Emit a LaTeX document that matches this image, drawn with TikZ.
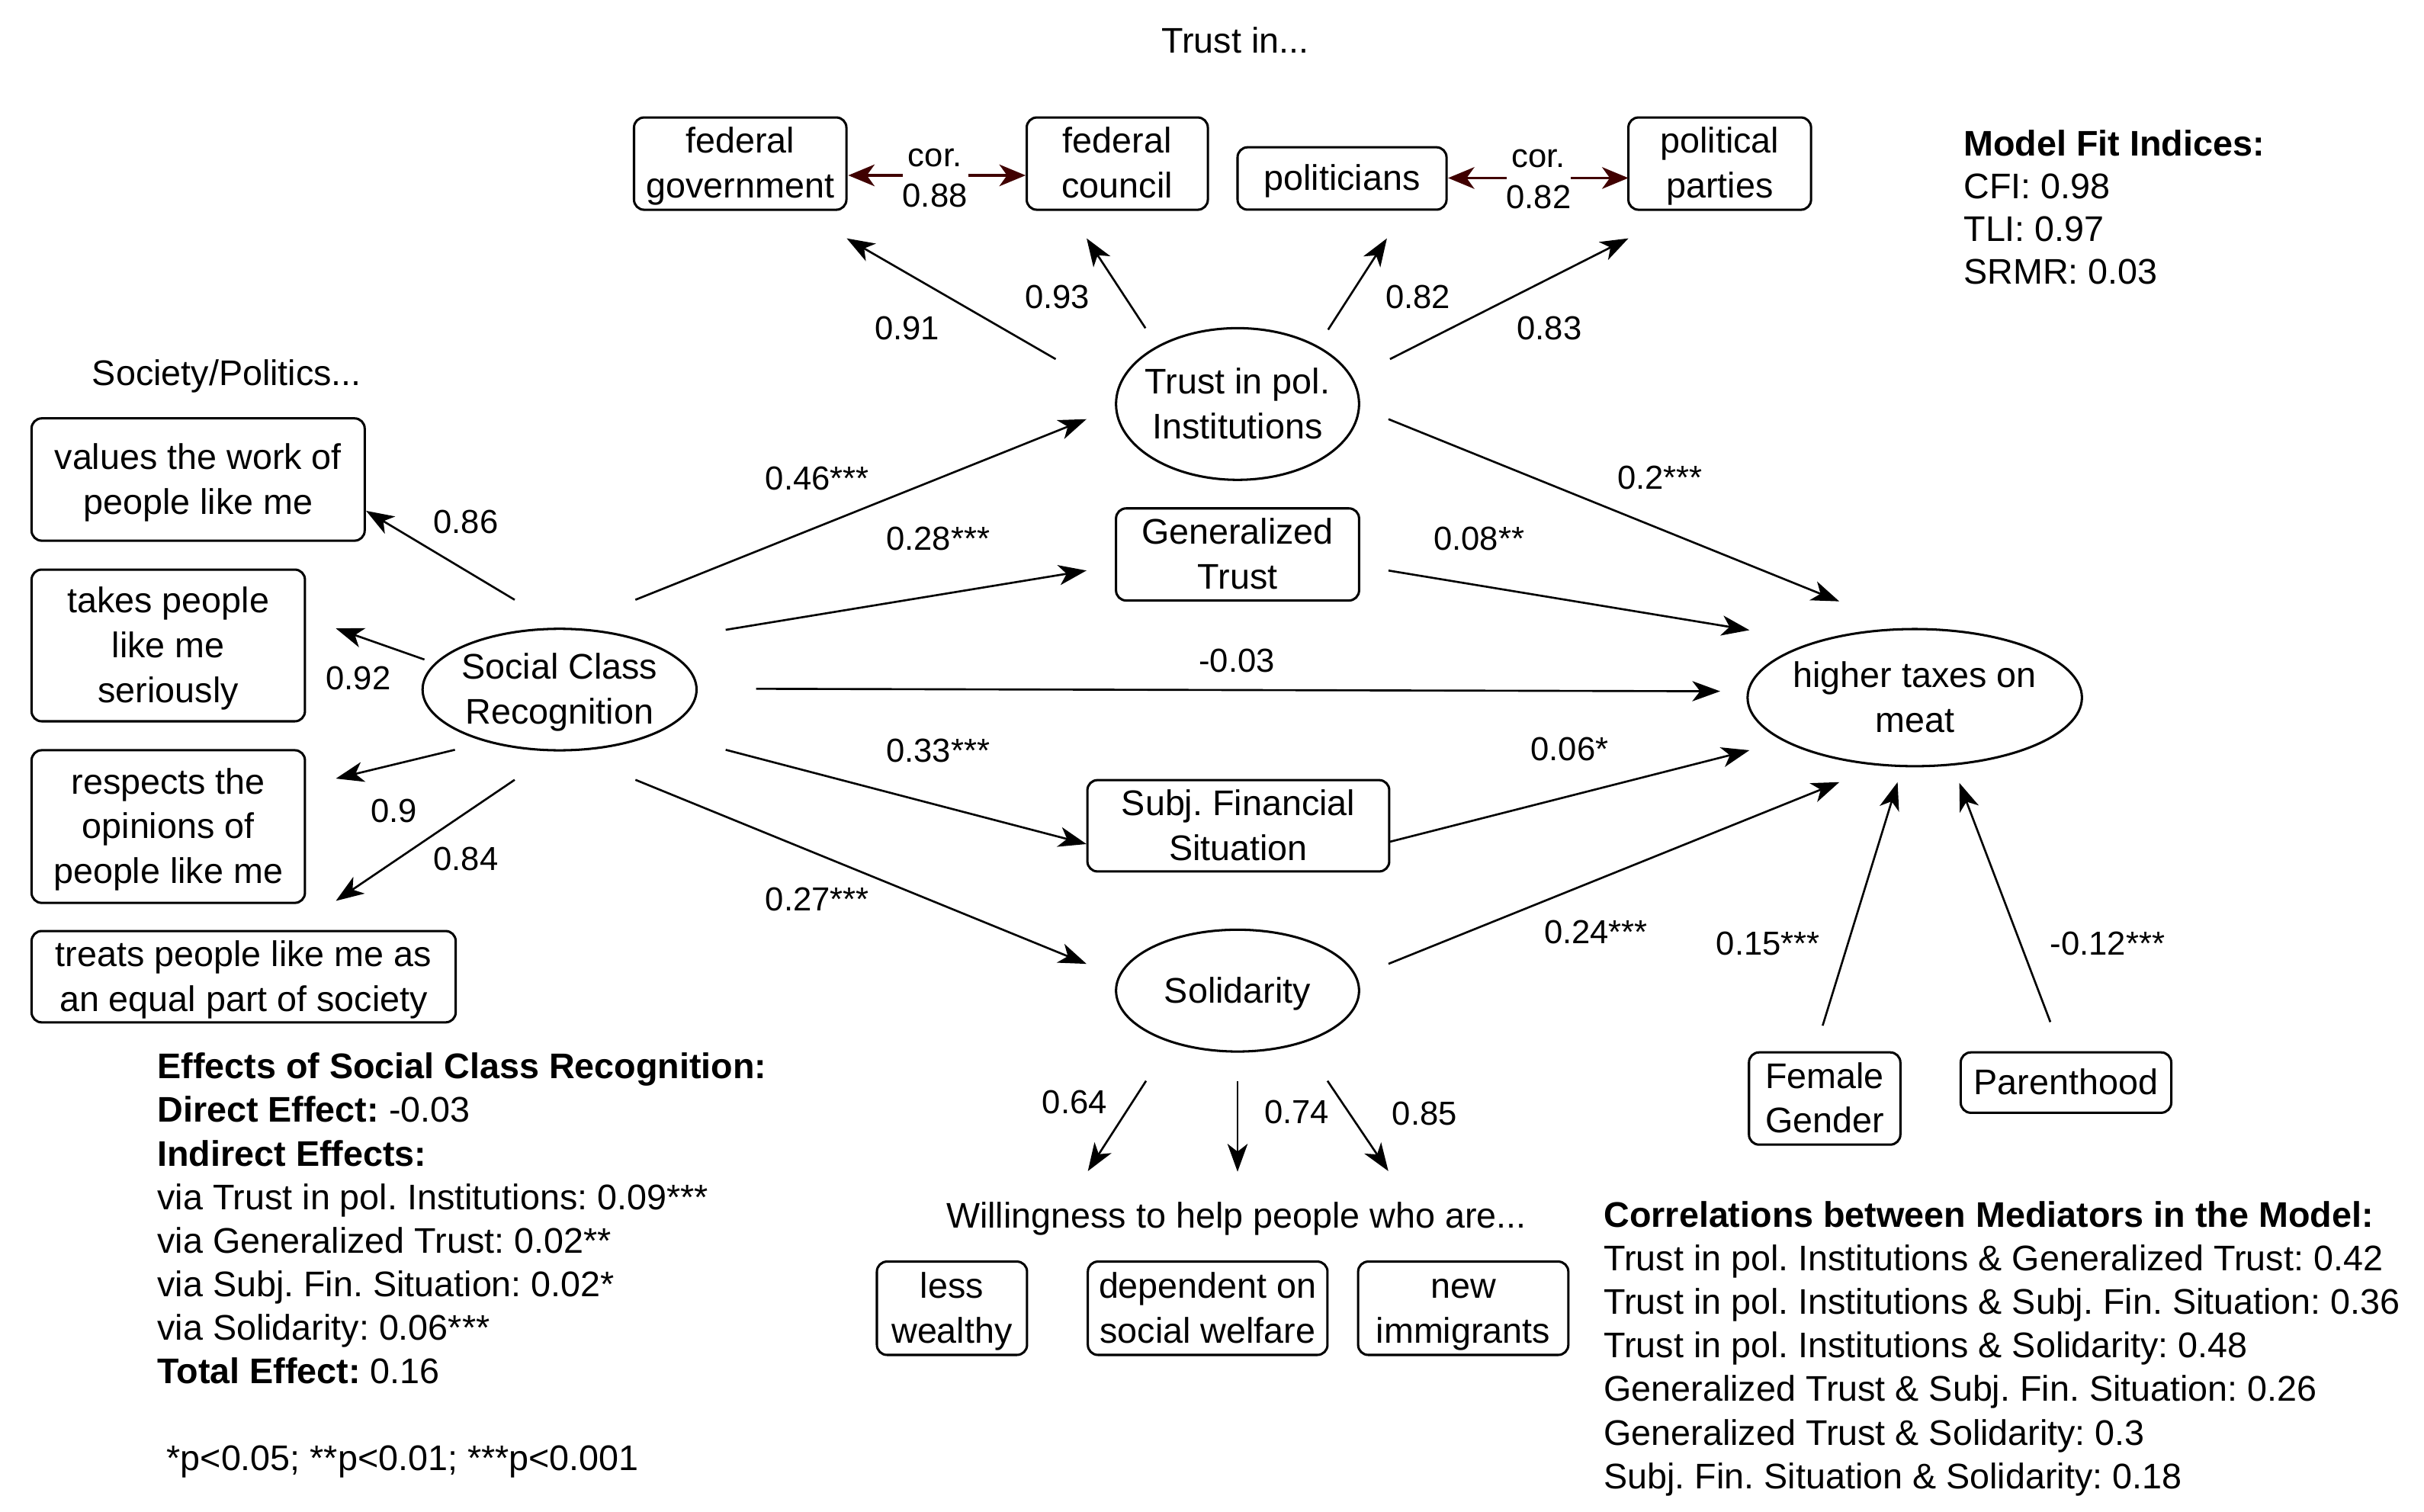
\documentclass[tikz,border=0pt]{standalone}
\usepackage{fontspec}
\setmainfont{Liberation Sans}
\usetikzlibrary{shapes.geometric,arrows.meta}
\definecolor{corc}{RGB}{64,0,0}
\newcommand{\ms}{\rule[-6.7pt]{0pt}{29pt}}
\begin{document}
\frenchspacing
\begin{tikzpicture}[x=1pt,y=-1pt,
  txt/.style={font=\fontsize{23}{29}\selectfont, inner sep=0pt, align=center},
  lbl/.style={font=\fontsize{21.5}{25}\selectfont, inner sep=0pt},
  ltxt/.style={font=\fontsize{23}{28}\selectfont, inner sep=0pt, anchor=base west},
  rbox/.style={draw, line width=1.5pt, rounded corners=6.5pt, inner sep=0pt, align=center, font=\fontsize{23}{29}\selectfont},
  ell/.style={draw, ellipse, line width=1.5pt, inner sep=0pt},
  arr/.style={line width=1.3pt, -{Stealth[length=18pt,width=13pt,inset=5pt]}},
  corarr/.style={draw=corc, line width=1.8pt, -{Stealth[length=17pt,width=14pt,inset=5pt,fill=corc]}}
]
\useasboundingbox (0,0) rectangle (1566,976.4);
\fill[white] (0,0) rectangle (1566,976.4);

% titles
\node[txt] (trustin) at (798,26.3) {\ms Trust in...};
\node[txt] (socpol) at (146.5,241) {\ms Society/Politics...};
\node[txt] (willing) at (798.7,785.4) {\ms Willingness to help people who are...};

% trust indicator boxes
\node[rbox, minimum width=137.2pt, minimum height=59.6pt] (fedgov) at (478.2,105.7) {\ms federal\\\ms government};
\node[rbox, minimum width=117pt, minimum height=59.6pt] (fedcou) at (721.8,105.7) {\ms federal\\\ms council};
\node[rbox, minimum width=135pt, minimum height=40.3pt] (polit) at (867,115.3) {\ms politicians};
\node[rbox, minimum width=118pt, minimum height=59.6pt] (parties) at (1111,105.7) {\ms political\\\ms parties};

% cor labels
\node[lbl] (cor1a) at (604,101.8) {cor.};
\node[lbl] (cor1b) at (604,126.4) {0.88};
\node[lbl] (cor2a) at (994,102.6) {cor.};
\node[lbl] (cor2b) at (994,127.3) {0.82};

% latent / mediators
\node[ell, minimum width=157pt, minimum height=98pt] (tpi) at (799.5,261) {};
\node[txt] (tpiT) at (tpi) {\ms Trust in pol.\\\ms Institutions};
\node[rbox, minimum width=157pt, minimum height=59.5pt] (gen) at (799.5,358.2) {\ms Generalized\\\ms Trust};
\node[rbox, minimum width=195pt, minimum height=59pt] (subj) at (800,533.5) {\ms Subj. Financial\\\ms Situation};
\node[ell, minimum width=157pt, minimum height=78.7pt] (sol) at (799.5,640) {};
\node[txt] (solT) at (sol) {\ms Solidarity};
\node[ell, minimum width=177pt, minimum height=78.5pt] (scr) at (361.5,445.5) {};
\node[txt] (scrT) at (scr) {\ms Social Class\\\ms Recognition};
\node[ell, minimum width=216pt, minimum height=88.6pt] (tax) at (1237,450.7) {};
\node[txt] (taxT) at (tax) {\ms higher taxes on\\\ms meat};

% controls
\node[rbox, minimum width=97.8pt, minimum height=59.6pt] (fem) at (1178.8,709.7) {\ms Female\\\ms Gender};
\node[rbox, minimum width=136pt, minimum height=39pt] (par) at (1334.7,699.4) {\ms Parenthood};

% SCR indicators
\node[rbox, minimum width=215.2pt, minimum height=79pt] (val) at (128,309.8) {\ms values the work of\\\ms people like me};
\node[rbox, minimum width=176.6pt, minimum height=98pt] (tak) at (108.7,417) {\ms takes people\\\ms like me\\\ms seriously};
\node[rbox, minimum width=176.6pt, minimum height=98.6pt] (res) at (108.7,534) {\ms respects the\\\ms opinions of\\\ms people like me};
\node[rbox, minimum width=274pt, minimum height=59pt] (tre) at (157.4,631) {\ms treats people like me as\\\ms an equal part of society};

% solidarity indicators
\node[rbox, minimum width=97pt, minimum height=60.3pt] (less) at (615,845.2) {\ms less\\\ms wealthy};
\node[rbox, minimum width=154.8pt, minimum height=60.3pt] (dep) at (780.2,845.2) {\ms dependent on\\\ms social welfare};
\node[rbox, minimum width=135.8pt, minimum height=60.3pt] (imm) at (945.3,845.2) {\ms new\\\ms immigrants};

% arrows
\foreach \n/\sx/\sy/\tx/\ty in {
  t1/682/232/547/154, t2/740/212/702/154, t3/858/213/896/154, t4/898/232/1052/154,
  s1/332.5/387.5/236.5/330, s2/274.2/426.1/217/406, s3/293.9/484.4/217/503, s4/332.5/503.8/217/582,
  p1/410.5/387.5/701.9/270.8, p2/468.8/406.9/701.9/368.6, p3/488.5/445/1111.3/446.6,
  p4/468.8/484.4/701.9/545.3, p5/410.5/503.8/701.9/622.7,
  m1/897/270.8/1188.2/388.5, m2/897/368.6/1130.2/407.1, m3/898/543.8/1130.2/484.7, m4/897/622.7/1188.3/505.3,
  c1/1177.5/662.6/1225.9/505.3, c2/1324.6/660.3/1265.8/505.8,
  i1/740.4/698.3/702.8/756.6, i2/799.5/698.3/799.5/757, i3/857.6/698.3/896.9/756.6}{
  \coordinate (\n s) at (\sx,\sy);
  \coordinate (\n t) at (\tx,\ty);
  \draw[arr] (\n s) -- (\n t);
}
\foreach \n/\sx/\sy/\tx/\ty in {
  k1/583/113.3/548/113.3, k2/625.6/113.3/662.6/113.3, k3/973.5/115/935.5/115, k4/1015/115/1052/115}{
  \coordinate (\n s) at (\sx,\sy);
  \coordinate (\n t) at (\tx,\ty);
  \draw[corarr] (\n s) -- (\n t);
}

% edge labels
\node[lbl] (l91) at (586,212) {0.91};
\node[lbl] (l93) at (683,192) {0.93};
\node[lbl] (l82) at (916,192) {0.82};
\node[lbl] (l83) at (1001,212) {0.83};
\node[lbl] (l86) at (301,337) {0.86};
\node[lbl] (l92) at (231.5,438) {0.92};
\node[lbl] (l9) at (254.5,524) {0.9};
\node[lbl] (l84) at (301,555) {0.84};
\node[lbl] (l46) at (528,309) {0.46***};
\node[lbl] (l28) at (606,348) {0.28***};
\node[lbl] (l03) at (799,427) {-0.03};
\node[lbl] (l33) at (606,485) {0.33***};
\node[lbl] (l27) at (528,581) {0.27***};
\node[lbl] (l2) at (1072.4,308.7) {0.2***};
\node[lbl] (l08) at (955.5,348.1) {0.08**};
\node[lbl] (l06) at (1014,483.8) {0.06*};
\node[lbl] (l24) at (1031,602.2) {0.24***};
\node[lbl] (l15) at (1142.2,609.4) {0.15***};
\node[lbl] (l12) at (1361.5,609.4) {-0.12***};
\node[lbl] (l64) at (694.2,712) {0.64};
\node[lbl] (l74) at (837.8,718.6) {0.74};
\node[lbl] (l85) at (920.4,719.4) {0.85};

% model fit
\node[ltxt] (mf0) at (1268.5,100.5) {\textbf{Model Fit Indices:}};
\node[ltxt] (mf1) at (1268.5,128.2) {CFI: 0.98};
\node[ltxt] (mf2) at (1268.5,155.9) {TLI: 0.97};
\node[ltxt] (mf3) at (1268.5,183.6) {SRMR: 0.03};

% effects
\node[ltxt] (ef0) at (101.5,697) {\textbf{Effects of Social Class Recognition:}};
\node[ltxt] (ef1) at (101.5,725.1) {\textbf{Direct Effect:} -0.03};
\node[ltxt] (ef2) at (101.5,753.3) {\textbf{Indirect Effects:}};
\node[ltxt] (ef3) at (101.5,781.4) {via Trust in pol. Institutions: 0.09***};
\node[ltxt] (ef4) at (101.5,809.6) {via Generalized Trust: 0.02**};
\node[ltxt] (ef5) at (101.5,837.7) {via Subj. Fin. Situation: 0.02*};
\node[ltxt] (ef6) at (101.5,865.8) {via Solidarity: 0.06***};
\node[ltxt] (ef7) at (101.5,894) {\textbf{Total Effect:} 0.16};
\node[ltxt] (pval) at (107.5,949.8) {*p<0.05; **p<0.01; ***p<0.001};

% correlations
\node[ltxt] (co0) at (1036,793) {\textbf{Correlations between Mediators in the Model:}};
\node[ltxt] (co1) at (1036,821.1) {Trust in pol. Institutions \& Generalized Trust: 0.42};
\node[ltxt] (co2) at (1036,849.2) {Trust in pol. Institutions \& Subj. Fin. Situation: 0.36};
\node[ltxt] (co3) at (1036,877.3) {Trust in pol. Institutions \& Solidarity: 0.48};
\node[ltxt] (co4) at (1036,905.4) {Generalized Trust \& Subj. Fin. Situation: 0.26};
\node[ltxt] (co5) at (1036,933.5) {Generalized Trust \& Solidarity: 0.3};
\node[ltxt] (co6) at (1036,961.6) {Subj. Fin. Situation \& Solidarity: 0.18};
\end{tikzpicture}
\end{document}
